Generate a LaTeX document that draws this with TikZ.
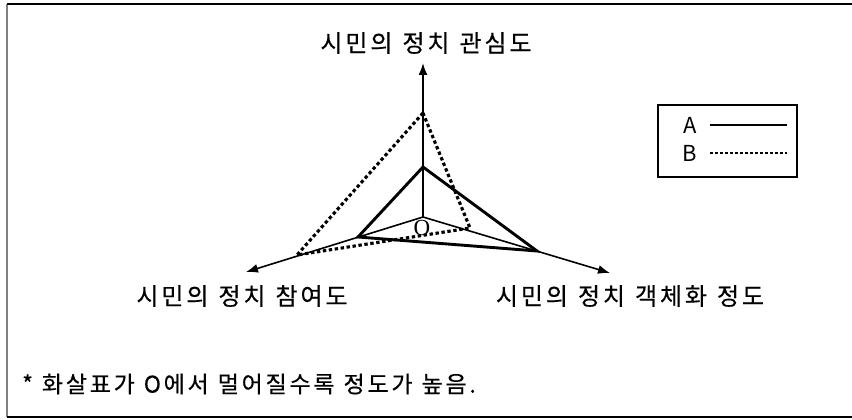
\documentclass[tikz,border=0pt]{standalone}
\usepackage{fontspec}
\setmainfont{Noto Sans CJK KR}
\newfontfamily\krwide[LetterSpace=12, FakeBold=0.5]{Noto Sans CJK KR}
\newfontfamily\krnote[LetterSpace=12, FakeBold=0.5]{Noto Sans CJK KR}
\newfontfamily\oserif{Liberation Serif}
\newcommand\wordgap[1]{\spaceskip=#1\relax}
\usetikzlibrary{arrows.meta}
\tikzstyle{axis}=[line width=1.6pt, -{Latex[length=12pt,width=9pt]}]
\tikzstyle{lineA}=[line width=2.9pt, line join=miter]
\tikzstyle{lineB}=[line width=3.1pt, dash pattern=on 3.4pt off 2.6pt]
\tikzstyle{axistext}=[font={\fontsize{24}{28}\selectfont\krwide}, inner sep=0pt]

\begin{document}
\begin{tikzpicture}[x=1pt, y=-1pt]
\useasboundingbox (0,0) rectangle (852,420);
% Frame
    \draw[gray, line width=2.4pt] (7,4) -- (7,417);
    \draw[line width=1.8pt] (7,4) -- (852,4);
    \draw[line width=1.8pt] (7,417) -- (852,417);
% Axes
    \coordinate (O) at (423,217);
    \coordinate (upEnd) at (423,63);
    \coordinate (leftEnd) at (246,272);
    \coordinate (rightEnd) at (610,273);
    \draw[axis] (O) -- (upEnd);
    \draw[axis] (O) -- (leftEnd);
    \draw[axis] (O) -- (rightEnd);
    \node[font={\fontsize{23}{25}\selectfont\oserif}, inner sep=0pt] (olabel) at (422,228) {O};
% Axis names
    \node[axistext] (interest) at (426,43) {\wordgap{10pt}시민의 정치 관심도};
    \node[axistext] (participation) at (242,296) {\wordgap{10pt}시민의 정치 참여도};
    \node[axistext] (objectification) at (630,296) {\wordgap{10pt}시민의 정치 객체화 정도};
% Series A
    \coordinate (Atop) at (423,167);
    \coordinate (Aleft) at (358,237);
    \coordinate (Aright) at (537,251);
    \draw[lineA] (Atop) -- (Aleft) -- (Aright) -- cycle;
% Series B
    \coordinate (Btop) at (423,113);
    \coordinate (Bleft) at (297,255);
    \coordinate (Bright) at (470,228);
    \draw[lineB] (Btop) -- (Bleft) -- (Bright) -- cycle;
% Legend
    \draw[line width=1.5pt] (658,105) rectangle (797,177);
    \node[font={\fontsize{22}{24}\selectfont}, inner sep=0pt] (legA) at (690,125) {A};
    \node[font={\fontsize{22}{24}\selectfont}, inner sep=0pt] (legB) at (690,153) {B};
    \coordinate (legAend) at (787,125);
    \coordinate (legBend) at (787,153);
    \draw[line width=2.4pt] (710,125) -- (legAend);
    \draw[line width=2.6pt, dash pattern=on 2.8pt off 2.2pt] (710,153) -- (legBend);
% Note
    \node[anchor=west, font={\fontsize{23}{25}\selectfont\krnote}, inner sep=0pt] (note) at (22,384) {\wordgap{9pt}* 화살표가 O에서 멀어질수록 정도가 높음.};
\end{tikzpicture}
\end{document}
